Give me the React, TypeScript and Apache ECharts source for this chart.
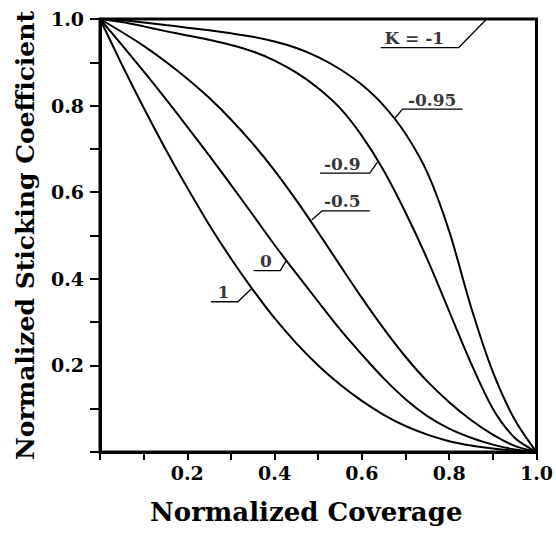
import React, { useEffect, useRef } from "react";
import * as echarts from "echarts";

const coverage = [0, 0.05, 0.1, 0.15, 0.2, 0.25, 0.3, 0.35, 0.4, 0.45, 0.5, 0.55, 0.6, 0.65, 0.7, 0.75, 0.8, 0.85, 0.9, 0.95, 1.0];
const sK1 = [1, 0.895, 0.795, 0.7, 0.61, 0.525, 0.447, 0.375, 0.309, 0.251, 0.2, 0.156, 0.118, 0.086, 0.06, 0.04, 0.025, 0.015, 0.008, 0.003, 0];
const sK0 = [1, 0.94, 0.879, 0.816, 0.751, 0.685, 0.617, 0.548, 0.478, 0.412, 0.347, 0.283, 0.225, 0.17, 0.122, 0.083, 0.054, 0.033, 0.017, 0.006, 0];
const sKm05 = [1, 0.97, 0.938, 0.902, 0.862, 0.818, 0.768, 0.712, 0.65, 0.581, 0.507, 0.431, 0.356, 0.285, 0.22, 0.163, 0.115, 0.074, 0.04, 0.014, 0];
const sKm09 = [1, 0.993, 0.983, 0.972, 0.962, 0.952, 0.94, 0.925, 0.904, 0.876, 0.84, 0.794, 0.73, 0.65, 0.553, 0.445, 0.325, 0.205, 0.1, 0.033, 0];
const sKm095 = [1, 0.997, 0.992, 0.986, 0.98, 0.974, 0.967, 0.959, 0.948, 0.933, 0.912, 0.884, 0.848, 0.8, 0.735, 0.645, 0.51, 0.335, 0.185, 0.075, 0];
const kMinus1X = [0, 1, 1];
const kMinus1Y = [1, 1, 0];

const labelTexts = ["K = -1", "-0.95", "-0.9", "-0.5", "0", "1"];
const labelX = [0.72, 0.761, 0.555, 0.555, 0.38, 0.283];
const labelY = [0.934, 0.792, 0.644, 0.557, 0.419, 0.347];
const leaders = [
  [[0.643, 0.934], [0.822, 0.934], [0.886, 1.0]],
  [[0.674, 0.769], [0.693, 0.792], [0.831, 0.792]],
  [[0.504, 0.644], [0.618, 0.644], [0.636, 0.67]],
  [[0.485, 0.536], [0.509, 0.557], [0.618, 0.557]],
  [[0.352, 0.419], [0.413, 0.419], [0.426, 0.441]],
  [[0.254, 0.347], [0.316, 0.347], [0.348, 0.378]],
];

const FONT = "DejaVu Serif";

export default function App() {
  const ref = useRef<HTMLDivElement>(null);
  useEffect(() => {
    document.body.style.margin = "0";
    if (!ref.current) return;
    const chart = echarts.init(ref.current, null, { renderer: "svg" });
    const curves = [sK1, sK0, sKm05, sKm09, sKm095];
    const series: any[] = curves.map((ys) => ({
      type: "line",
      data: coverage.map((x, i) => [x, ys[i]]),
      smooth: 0.3,
      showSymbol: false,
      symbol: "none",
      lineStyle: { color: "#000", width: 2 },
    }));
    series.push({
      type: "line",
      data: kMinus1X.map((x, i) => [x, kMinus1Y[i]]),
      showSymbol: false,
      symbol: "none",
      lineStyle: { color: "#000", width: 2 },
    });
    leaders.forEach((pts) => {
      series.push({
        type: "line",
        data: pts,
        showSymbol: false,
        symbol: "none",
        lineStyle: { color: "#000", width: 1.3 },
      });
    });
    series.push({
      type: "scatter",
      symbolSize: 0,
      data: labelTexts.map((t, i) => ({ name: t, value: [labelX[i], labelY[i]] })),
      label: {
        show: true,
        position: "top",
        distance: 1,
        formatter: "{b}",
        color: "#000",
        fontFamily: FONT,
        fontWeight: "bold",
        fontSize: 17,
      },
    });
    chart.setOption({
      animation: false,
      backgroundColor: "#fff",
      grid: { left: 100, top: 19, right: 16, bottom: 81, show: true, borderColor: "#000", borderWidth: 3 },
      xAxis: {
        type: "value",
        min: 0,
        max: 1,
        interval: 0.1,
        name: "Normalized Coverage",
        nameLocation: "middle",
        nameGap: 47,
        nameTextStyle: { fontFamily: FONT, fontWeight: "bold", fontSize: 26, color: "#000", padding: [0, 24, 0, 0] },
        axisLine: { show: true, lineStyle: { color: "#000", width: 3 } },
        axisTick: { show: true, inside: false, length: 8, lineStyle: { color: "#000", width: 2 } },
        axisLabel: {
          margin: 11,
          fontFamily: FONT,
          fontWeight: "bold",
          fontSize: 19,
          color: "#000",
          formatter: (v: number) => {
            const n = Math.round(v * 10);
            return n > 0 && n % 2 === 0 ? (n / 10).toFixed(1) : "";
          },
        },
        splitLine: { show: false },
      },
      yAxis: {
        type: "value",
        min: 0,
        max: 1,
        interval: 0.1,
        name: "Normalized Sticking Coefficient",
        nameLocation: "middle",
        nameGap: 62,
        nameTextStyle: { fontFamily: FONT, fontWeight: "bold", fontSize: 25, color: "#000" },
        axisLine: { show: true, lineStyle: { color: "#000", width: 3 } },
        axisTick: { show: true, inside: false, length: 10, lineStyle: { color: "#000", width: 2 } },
        axisLabel: {
          margin: 16,
          fontFamily: FONT,
          fontWeight: "bold",
          fontSize: 19,
          color: "#000",
          formatter: (v: number) => {
            const n = Math.round(v * 10);
            return n > 0 && n % 2 === 0 ? (n / 10).toFixed(1) : "";
          },
        },
        splitLine: { show: false },
      },
      series,
    });
    return () => chart.dispose();
  }, []);
  return <div ref={ref} style={{ width: 556, height: 533 }} />;
}
